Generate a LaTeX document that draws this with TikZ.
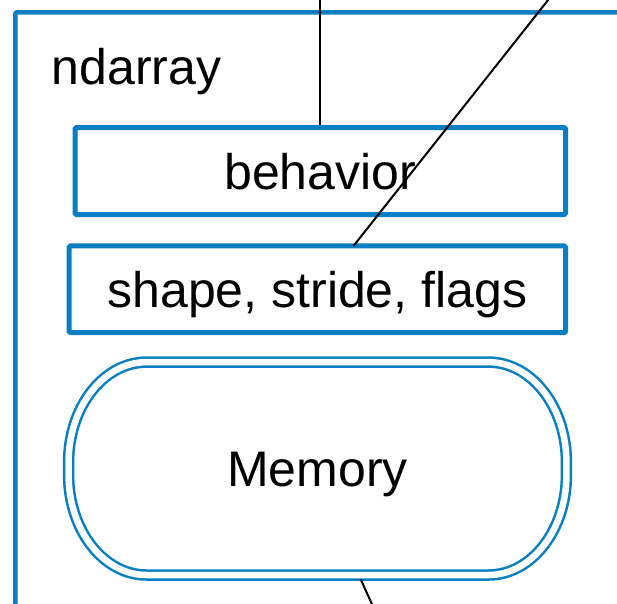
\documentclass[tikz,border=0pt]{standalone}
\usepackage{fontspec}
\setmainfont{Liberation Sans}
\definecolor{frameblue}{RGB}{8,127,194}
\tikzset{
  box/.style={draw=frameblue, line width=5pt, rounded corners=1.5pt,
    rectangle, inner sep=0pt, text height=36pt, text depth=0pt},
  memtext/.style={rectangle, inner sep=0pt, text height=36pt, text depth=0pt},
  memline/.style={draw=frameblue, line width=2.5pt, double=white, double distance=6.5pt},
  link/.style={draw=black, line width=2pt},
  label/.style={inner sep=0pt}
}
\begin{document}
\begin{tikzpicture}[x=1pt, y=-1pt, font=\fontsize{50pt}{60pt}\selectfont]
\useasboundingbox (0,0) rectangle (617,603);
\clip (0,0) rectangle (617,603);
\fill[white] (0,0) rectangle (617,603);

% enclosing ndarray frame (runs past the right and bottom edges)
\draw[draw=frameblue, line width=4.6pt, rounded corners=2pt]
  (15.3,700) -- (15.3,12.3) -- (700,12.3);
\node[label, anchor=base west] (title) at (51.5,84) {ndarray};

% the parts of the array
\node[box, minimum width=490.5pt, minimum height=87pt] (beh) at (320.25,171) {behavior};
\node[box, minimum width=496.3pt, minimum height=86.9pt] (shp) at (317.35,289.25) {shape, stride, flags};
\node[memtext, minimum width=497.4pt, minimum height=212.5pt] (mem) at (317.5,468.55) {Memory};

% stadium outline of the memory block
\draw[memline]
  ([xshift=-78pt]mem.north east) -- ([xshift=78pt]mem.north west)
  arc[start angle=90, end angle=180, x radius=78pt, y radius=100pt]
  -- ([yshift=100pt]mem.south west)
  arc[start angle=180, end angle=270, x radius=78pt, y radius=100pt]
  -- ([xshift=-78pt]mem.south east)
  arc[start angle=270, end angle=360, x radius=78pt, y radius=100pt]
  -- ([yshift=-100pt]mem.north east)
  arc[start angle=0, end angle=90, x radius=78pt, y radius=100pt]
  -- cycle;

% connectors leaving the picture
\coordinate (upA) at (320.25,-10);
\coordinate (upB) at (556,-10);
\coordinate (down) at (376,613);
\coordinate (shpTop) at (353.6,245.8);
\coordinate (memBot) at (360.7,579.3);

\draw[link] (beh.north) -- (upA);
\draw[link] (shpTop) -- (upB);
\draw[link] (memBot) -- (down);
\end{tikzpicture}
\end{document}
